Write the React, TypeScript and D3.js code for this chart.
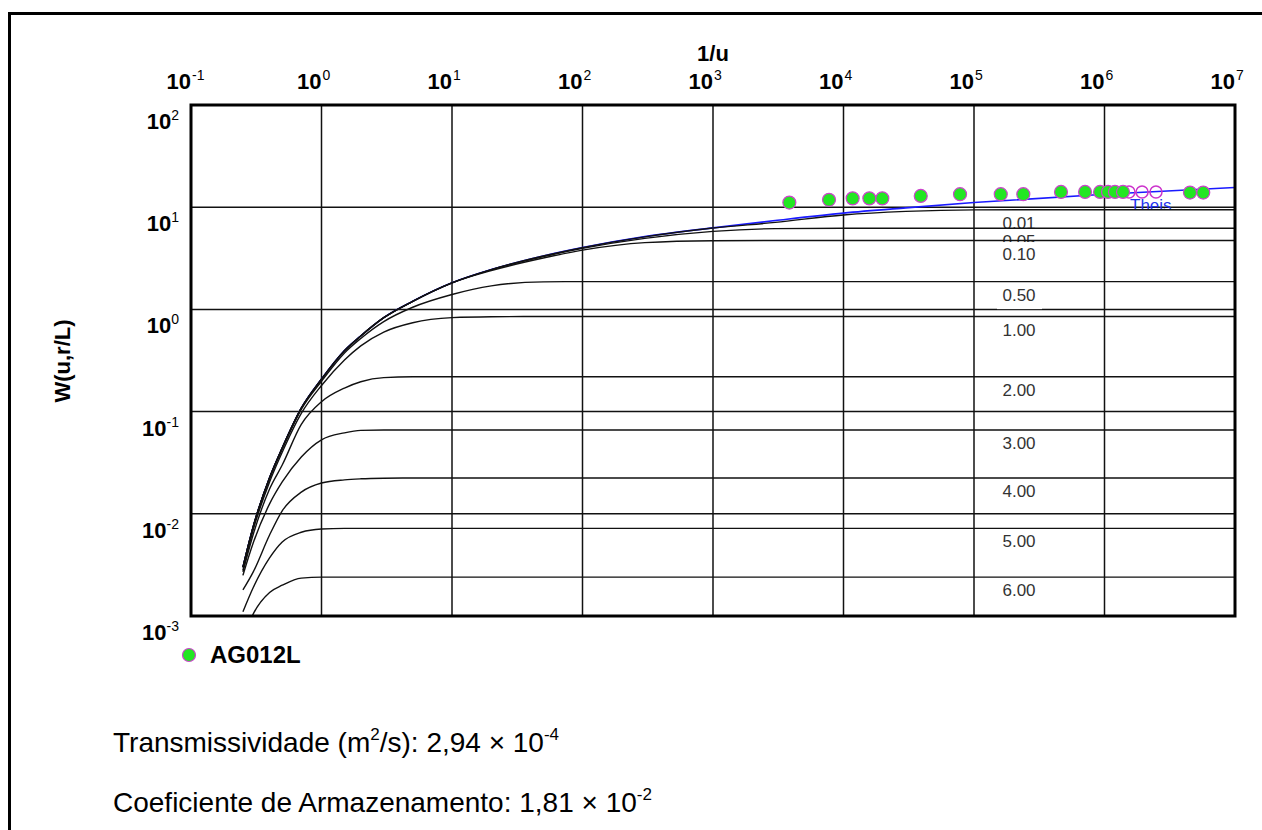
import React from "react";
import * as d3 from "d3";

// 1/u sample points shared by all type curves
const invU = [0.25, 0.3, 0.4, 0.5, 0.7, 1, 1.5, 2, 3, 5, 10, 20, 50, 100, 300, 1e3, 3e3, 1e4, 3e4, 1e5, 1e6, 1e7];

// Theis curve (blue)
const theisW = [0.003, 0.0075, 0.0225, 0.044, 0.108, 0.208, 0.395, 0.55, 0.83, 1.2, 1.82, 2.45, 3.33, 4.02, 5.15, 6.28, 7.4, 8.75, 9.85, 11.1, 13.4, 15.6];

// leaky type curves W(u, r/L)
const w001 = [0.003, 0.0075, 0.0225, 0.044, 0.108, 0.208, 0.395, 0.55, 0.83, 1.2, 1.82, 2.45, 3.33, 4.02, 5.12, 6.25, 7.1, 8.4, 9.1, 9.42, 9.44, 9.44];
const w005 = [0.003, 0.0075, 0.0225, 0.044, 0.108, 0.208, 0.395, 0.55, 0.83, 1.2, 1.82, 2.45, 3.28, 3.95, 4.95, 5.8, 6.17, 6.22, 6.23, 6.23, 6.23, 6.23];
const w010 = [0.003, 0.0075, 0.0225, 0.044, 0.108, 0.208, 0.395, 0.55, 0.83, 1.2, 1.82, 2.4, 3.18, 3.8, 4.5, 4.7, 4.72, 4.72, 4.72, 4.72, 4.72, 4.72];
const w050 = [0.003, 0.0075, 0.0222, 0.043, 0.105, 0.198, 0.375, 0.52, 0.76, 1.05, 1.4, 1.7, 1.86, 1.87, 1.87, 1.87, 1.87, 1.87, 1.87, 1.87, 1.87, 1.87];
const w100 = [0.0028, 0.007, 0.0205, 0.04, 0.096, 0.18, 0.32, 0.44, 0.6, 0.74, 0.83, 0.848, 0.852, 0.852, 0.852, 0.852, 0.852, 0.852, 0.852, 0.852, 0.852, 0.852];
const w200 = [0.0027, 0.0063, 0.0175, 0.03, 0.075, 0.125, 0.17, 0.196, 0.215, 0.219, 0.219, 0.219, 0.219, 0.219, 0.219, 0.219, 0.219, 0.219, 0.219, 0.219, 0.219, 0.219];
const w300 = [0.0025, 0.0052, 0.0125, 0.0205, 0.036, 0.053, 0.062, 0.0655, 0.066, 0.066, 0.066, 0.066, 0.066, 0.066, 0.066, 0.066, 0.066, 0.066, 0.066, 0.066, 0.066, 0.066];
const w400 = [0.0018, 0.0027, 0.0062, 0.0107, 0.0163, 0.02, 0.0215, 0.022, 0.0223, 0.0224, 0.0224, 0.0224, 0.0224, 0.0224, 0.0224, 0.0224, 0.0224, 0.0224, 0.0224, 0.0224, 0.0224, 0.0224];
const w500 = [0.0011, 0.0019, 0.0037, 0.0053, 0.0066, 0.0071, 0.0072, 0.0072, 0.0072, 0.0072, 0.0072, 0.0072, 0.0072, 0.0072, 0.0072, 0.0072, 0.0072, 0.0072, 0.0072, 0.0072, 0.0072, 0.0072];
const w600 = [0.0006, 0.00105, 0.0017, 0.002, 0.00235, 0.0024, 0.0024, 0.0024, 0.0024, 0.0024, 0.0024, 0.0024, 0.0024, 0.0024, 0.0024, 0.0024, 0.0024, 0.0024, 0.0024, 0.0024, 0.0024, 0.0024];
const curveLabels = ["0.01", "0.05", "0.10", "0.50", "1.00", "2.00", "3.00", "4.00", "5.00", "6.00"];

// observed data AG012L
const obsInvU = [3846, 7745, 11750, 15780, 19830, 39080, 78160, 160300, 238700, 464200, 709600, 924700, 1.064e6, 1.203e6, 1.386e6, 4.52e6, 5.71e6];
const obsW = [11.1, 11.8, 12.2, 12.2, 12.2, 12.9, 13.4, 13.4, 13.4, 14.1, 14.1, 14.1, 14.1, 14.1, 14.1, 13.9, 13.9];
const hollowInvU = [1.54e6, 1.94e6, 2.48e6];
const hollowW = [14.1, 14.1, 14.1];

const xDecades = [0.1, 1, 10, 100, 1e3, 1e4, 1e5, 1e6, 1e7];
const xExp = ["-1", "0", "1", "2", "3", "4", "5", "6", "7"];
const yDecades = [100, 10, 1, 0.1, 0.01, 0.001];
const yExp = ["2", "1", "0", "-1", "-2", "-3"];

const FONT = "'Liberation Sans', Arial, sans-serif";

export default function App() {
  const x = d3.scaleLog().domain([0.1, 1e7]).range([191, 1235]);
  const y = d3.scaleLog().domain([100, 0.001]).range([105, 616]);
  const line = d3
    .line<[number, number]>()
    .x((d) => x(d[0]))
    .y((d) => y(d[1]))
    .curve(d3.curveMonotoneX);

  const curves = [w001, w005, w010, w050, w100, w200, w300, w400, w500, w600];
  const pts = (ws: number[]) => invU.map((u, i) => [u, ws[i]] as [number, number]);
  const obs = obsInvU.map((u, i) => [u, obsW[i]] as [number, number]);

  return (
    <svg
      width={1262}
      height={830}
      style={{ position: "absolute", left: 0, top: 0, background: "#fff" }}
      fontFamily={FONT}
    >
      <defs>
        <clipPath id="plot">
          <rect x={191} y={105} width={1044} height={511} />
        </clipPath>
        <clipPath id="theisClip">
          <rect x={1100} y={190} width={120} height={19} />
        </clipPath>
      </defs>

      {/* outer border */}
      <rect x={9.5} y={13.5} width={1400} height={1000} fill="none" stroke="#000" strokeWidth={3} />

      {/* grid */}
      {xDecades.map((d) => (
        <line key={"gx" + d} x1={x(d)} x2={x(d)} y1={105} y2={616} stroke="#111" strokeWidth={1.5} />
      ))}
      {yDecades.map((d) => (
        <line key={"gy" + d} x1={191} x2={1235} y1={y(d)} y2={y(d)} stroke="#111" strokeWidth={1.5} />
      ))}

      {/* curve labels with white boxes */}
      {curves.map((ws, i) => {
        const ly = y(ws[ws.length - 1]);
        return (
          <g key={"lab" + i}>
            <rect x={997} y={ly + 1.5} width={45} height={26} fill="#fff" />
            <text x={1019} y={ly + 19} fontSize={17} fill="#333" textAnchor="middle">
              {curveLabels[i]}
            </text>
          </g>
        );
      })}

      <g clipPath="url(#plot)">
        <path d={line(pts(theisW)) || ""} fill="none" stroke="#1a1aff" strokeWidth={1.6} />
        {curves.map((ws, i) => (
          <path key={"c" + i} d={line(pts(ws)) || ""} fill="none" stroke="#111" strokeWidth={1.4} />
        ))}
      </g>

      <text x={1130} y={211} fontSize={17} fill="#2233ee" clipPath="url(#theisClip)">
        Theis
      </text>

      {/* observed points */}
      {hollowInvU.map((u, i) => (
        <circle key={"h" + i} cx={x(u)} cy={y(hollowW[i])} r={6} fill="none" stroke="#cc33cc" strokeWidth={1.5} />
      ))}
      {obs.map((d, i) => (
        <circle key={"p" + i} cx={x(d[0])} cy={y(d[1])} r={6.5} fill="#22e622" stroke="#cc44cc" strokeWidth={1.2} />
      ))}

      {/* frame */}
      <rect x={191} y={105} width={1044} height={511} fill="none" stroke="#000" strokeWidth={3} />

      {/* top axis labels */}
      {xDecades.map((d, i) => (
        <g key={"tx" + d}>
          <text x={x(d)} y={89} fontSize={22} fontWeight="bold" textAnchor="end">
            10
          </text>
          <text x={x(d) + 1} y={80} fontSize={14}>
            {xExp[i]}
          </text>
        </g>
      ))}
      <text x={713} y={61} fontSize={22} fontWeight="bold" textAnchor="middle">
        1/u
      </text>

      {/* left axis labels */}
      {yDecades.map((d, i) => (
        <text key={"ty" + d} x={179} y={y(d) + 24} textAnchor="end">
          <tspan fontSize={22} fontWeight="bold">10</tspan>
          <tspan fontSize={14} dy={-9}>
            {yExp[i]}
          </tspan>
        </text>
      ))}
      <text
        transform="translate(70,361) rotate(-90)"
        fontSize={22}
        fontWeight="bold"
        textAnchor="middle"
      >
        W(u,r/L)
      </text>

      {/* legend */}
      <circle cx={189} cy={655} r={6.5} fill="#22e622" stroke="#cc44cc" strokeWidth={1.2} />
      <text x={210} y={663} fontSize={24} fontWeight="bold">
        AG012L
      </text>

      {/* results */}
      <text x={113} y={752} fontSize={28}>
        Transmissividade (m
        <tspan fontSize={17} dy={-12}>2</tspan>
        <tspan dy={12}>/s): 2,94 × 10</tspan>
        <tspan fontSize={17} dy={-12}>-4</tspan>
      </text>
      <text x={113} y={812} fontSize={28}>
        Coeficiente de Armazenamento: 1,81 × 10
        <tspan fontSize={17} dy={-12}>-2</tspan>
      </text>
    </svg>
  );
}
